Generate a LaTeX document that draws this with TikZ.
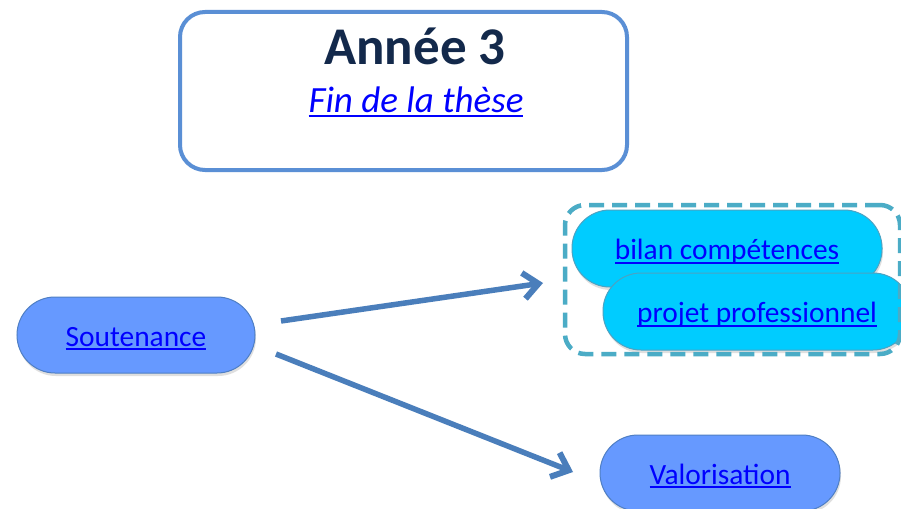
\documentclass[tikz,border=0pt]{standalone}
\usepackage{fontspec}
\setmainfont{Carlito}
\newsavebox\ulbox
\newcommand\myul[1]{\sbox\ulbox{#1}\rlap{\rule[-4pt]{\wd\ulbox}{1.7pt}}\usebox\ulbox}
\usetikzlibrary{arrows.meta,shadows}
\definecolor{titleborder}{HTML}{5A8FD5}
\definecolor{titletext}{HTML}{13294B}
\definecolor{linkblue}{HTML}{0000FF}
\definecolor{pillfill}{HTML}{6699FF}
\definecolor{pillborder}{HTML}{4F7FC4}
\definecolor{cyanfill}{HTML}{00CCFF}
\definecolor{cyanborder}{HTML}{4BA3C3}
\definecolor{dashcol}{HTML}{4BACC6}
\definecolor{arrowcol}{HTML}{4A7EBB}
\tikzset{
  pill/.style={draw=pillborder, line width=1pt, fill=pillfill, inner sep=0pt,
    minimum width=238pt, minimum height=76pt, rounded corners=38pt,
    drop shadow={shadow xshift=1pt, shadow yshift=-3pt, opacity=0.25}},
  cyanpill/.style={draw=cyanborder, line width=1pt, fill=cyanfill, inner sep=0pt,
    minimum width=310pt, minimum height=77pt, rounded corners=38pt,
    drop shadow={shadow xshift=1pt, shadow yshift=-3pt, opacity=0.25}},
  linktext/.style={text=linkblue, font=\fontsize{29.4}{34}\selectfont},
  conn/.style={draw=arrowcol, line width=5.5pt, -{Straight Barb[length=15pt, width=26pt, line width=6pt]}},
}
\begin{document}
\begin{tikzpicture}[x=1pt,y=-1pt]
\useasboundingbox (0,0) rectangle (901,508);
\fill[white] (0,0) rectangle (901,508);
% title box
\node[draw=titleborder, line width=4pt, rounded corners=25pt, minimum width=447pt, minimum height=158pt, inner sep=0pt] (title) at (403.5,91) {};
\node[anchor=base, text=titletext, font=\fontsize{53}{60}\selectfont\bfseries] (annee) at (415,65) {Année 3};
\node[anchor=base, text=linkblue, font=\fontsize{37}{42}\selectfont\itshape] (fin) at (416,113) {\myul{Fin de la thèse}};
% nodes
\node[pill] (sout) at (136,335) {};
\node[linktext, anchor=base] (souttxt) at (sout.center) [yshift=-11pt] {\myul{Soutenance}};
\node[cyanpill] (bilan) at (727,248.5) {};
\node[linktext, anchor=base] (bilantxt) at (bilan.center) [yshift=-11pt] {\myul{bilan compétences}};
\node[cyanpill, minimum width=308pt] (projet) at (757,311.5) {};
\node[linktext, anchor=base] (projettxt) at (projet.center) [yshift=-11pt] {\myul{projet professionnel}};
\node[pill, minimum width=240pt] (valo) at (720,473) {};
\node[linktext, anchor=base] (valotxt) at (valo.center) [yshift=-11pt] {\myul{Valorisation}};
% dashed group
\node[draw=dashcol, line width=4.5pt, dash pattern=on 15pt off 8pt, rounded corners=20pt, minimum width=335pt, minimum height=149pt, inner sep=0pt] (group) at (732.5,279.5) {};
% arrows
\coordinate (a1s) at (281,321);
\coordinate (a1e) at (543,283);
\coordinate (a2s) at (276,354);
\coordinate (a2e) at (573,472);
\draw[conn] (a1s) -- (a1e);
\draw[conn] (a2s) -- (a2e);
\end{tikzpicture}
\end{document}
